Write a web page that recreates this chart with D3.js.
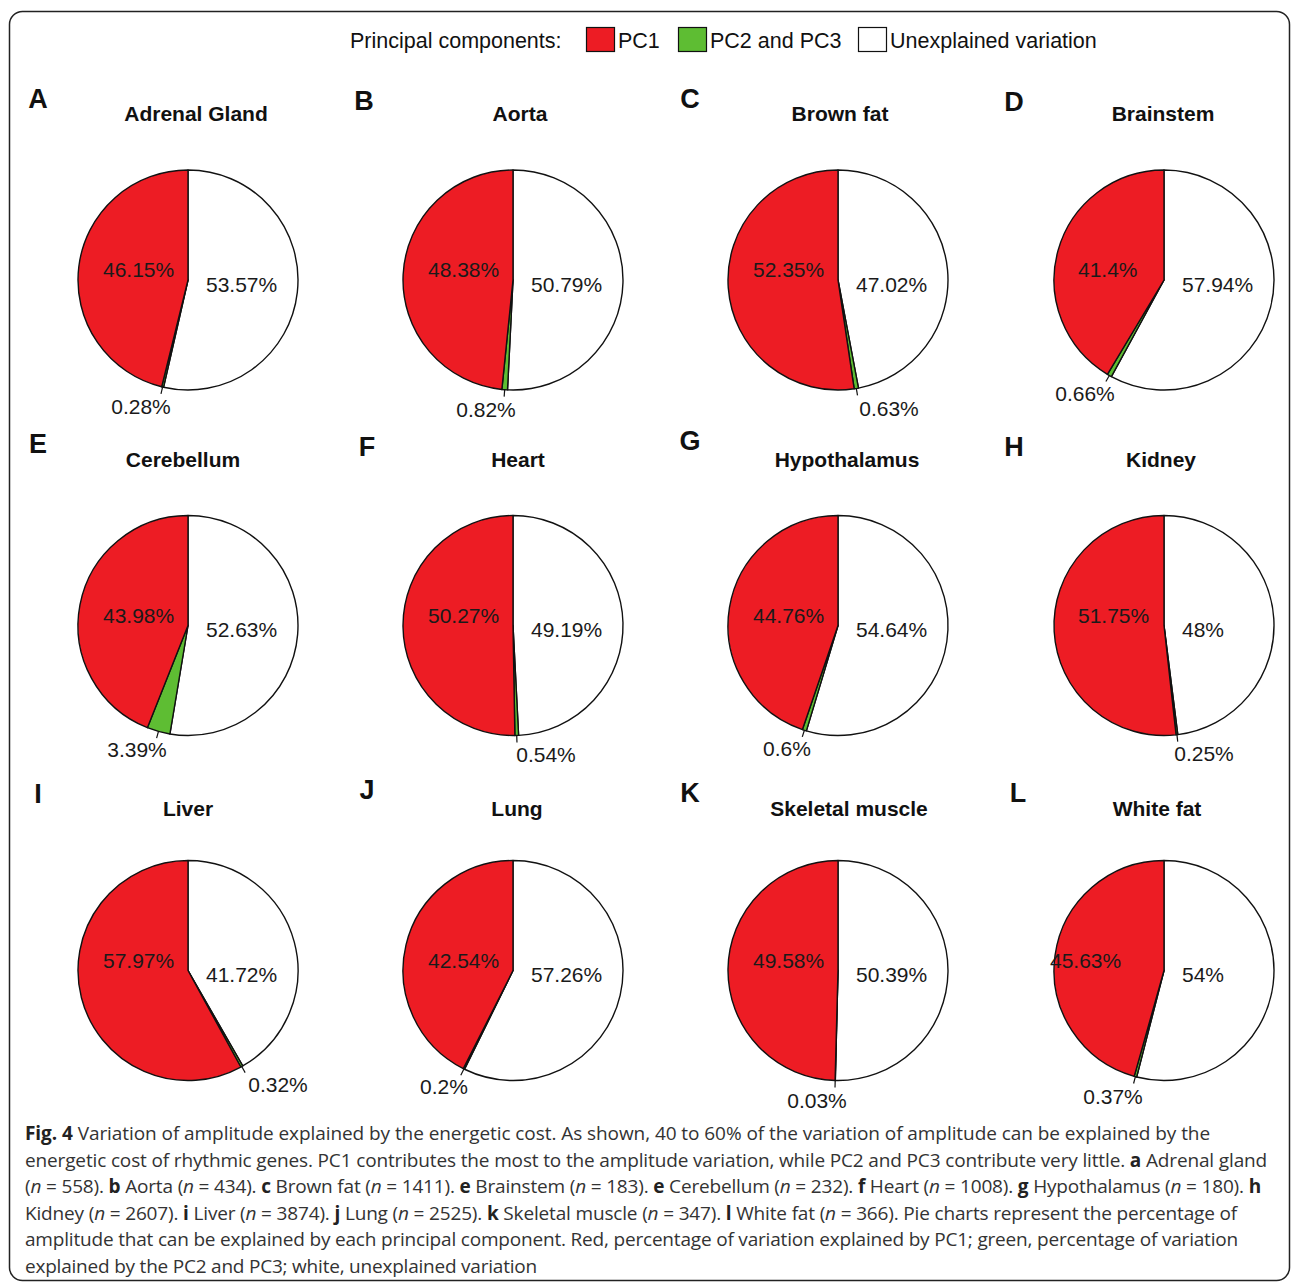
<!DOCTYPE html>
<html>
<head>
<meta charset="utf-8">
<script src="https://cdn.jsdelivr.net/npm/d3@7"></script>
<style>
  html, body { margin: 0; padding: 0; background: #fff; }
  svg { display: block; }
</style>
</head>
<body>
<svg id="fig" width="1292" height="1284"></svg>
<script>
// ---- data ----
const tissues = ["Adrenal Gland", "Aorta", "Brown fat", "Brainstem",
                 "Cerebellum", "Heart", "Hypothalamus", "Kidney",
                 "Liver", "Lung", "Skeletal muscle", "White fat"];
const panelLetters = ["A", "B", "C", "D", "E", "F", "G", "H", "I", "J", "K", "L"];
const pc1 =         [46.15, 48.38, 52.35, 41.4, 43.98, 50.27, 44.76, 51.75, 57.97, 42.54, 49.58, 45.63];
const pc23 =        [0.28, 0.82, 0.63, 0.66, 3.39, 0.54, 0.6, 0.25, 0.32, 0.2, 0.03, 0.37];
const unexplained = [53.57, 50.79, 47.02, 57.94, 52.63, 49.19, 54.64, 48, 41.72, 57.26, 50.39, 54];
const legendLabels = ["PC1", "PC2 and PC3", "Unexplained variation"];
const colors = {pc1: "#ED1C24", pc23: "#5EBD33", unexplained: "#FFFFFF"};

// ---- layout ----
const colX = [188, 513, 838, 1164];
const rowY = [280, 625.5, 970.5];
const radius = 110;
// offset of the small PC2/PC3 label centre from each pie centre
const smallLabelOffset = [[-47, 126], [-27, 129], [51, 128], [-79, 113],
                          [-51, 124], [33, 129], [-51, 123], [40, 128],
                          [90, 114], [-69, 116], [-21, 130], [-51, 126]];
const redLabelDx = [-85, -85, -85, -86, -85, -85, -85, -86, -85, -85, -85, -114];
const titleDx = [8, 7, 2, -1, -5, 5, 9, -3, 0, 4, 11, -7];
const letterPos = [[38, 108], [364, 110], [690, 108], [1014, 111],
                   [38, 453], [367, 456], [690, 450], [1014, 456],
                   [38, 803], [367, 799], [690, 802], [1018, 802]];

const svg = d3.select("#fig");
const sans = "'Liberation Sans', Arial, Helvetica, sans-serif";

// frame
svg.append("rect")
  .attr("x", 9.5).attr("y", 11.5).attr("width", 1280).attr("height", 1269)
  .attr("rx", 13).attr("ry", 13)
  .attr("fill", "none").attr("stroke", "#222").attr("stroke-width", 1.5);

// legend
const legend = svg.append("g").attr("font-family", sans).attr("font-size", 21.5).attr("fill", "#111");
legend.append("text").attr("x", 350).attr("y", 47.5).text("Principal components:");
const legendItems = [
  {label: legendLabels[0], color: colors.pc1, x: 586},
  {label: legendLabels[1], color: colors.pc23, x: 678},
  {label: legendLabels[2], color: colors.unexplained, x: 858}
];
legendItems.forEach(d => {
  legend.append("rect").attr("x", d.x + 0.5).attr("y", 27.5).attr("width", 28).attr("height", 24)
    .attr("fill", d.color).attr("stroke", "#111").attr("stroke-width", 1.2);
  legend.append("text").attr("x", d.x + 32).attr("y", 47.5).text(d.label);
});

// pies
const pie = d3.pie().sort(null).value(d => d.value).startAngle(0).endAngle(2 * Math.PI);
const arc = d3.arc().innerRadius(0).outerRadius(radius);
const fmt = v => String(v) + "%";

tissues.forEach((name, i) => {
  const cx = colX[i % 4], cy = rowY[Math.floor(i / 4)];
  const g = svg.append("g").attr("transform", `translate(${cx},${cy})`);
  const slices = [
    {key: "unexplained", value: unexplained[i]},
    {key: "pc23", value: pc23[i]},
    {key: "pc1", value: pc1[i]}
  ];
  const arcs = pie(slices);
  g.selectAll("path").data(arcs).join("path")
    .attr("d", arc)
    .attr("fill", d => colors[d.data.key])
    .attr("stroke", "#111").attr("stroke-width", 1.4).attr("stroke-linejoin", "round");

  // leader tick for the small slice
  const small = arcs[1];
  const mid = (small.startAngle + small.endAngle) / 2;
  g.append("line")
    .attr("x1", Math.sin(mid) * radius).attr("y1", -Math.cos(mid) * radius)
    .attr("x2", Math.sin(mid) * (radius + 7)).attr("y2", -Math.cos(mid) * (radius + 7))
    .attr("stroke", "#111").attr("stroke-width", 1.2);

  const lbl = g.append("g").attr("font-family", sans).attr("font-size", 21).attr("fill", "#1a1a1a");
  lbl.append("text").attr("x", redLabelDx[i]).attr("y", -3).text(fmt(pc1[i]));
  lbl.append("text").attr("x", 18).attr("y", 11.5).text(fmt(unexplained[i]));
  lbl.append("text").attr("x", smallLabelOffset[i][0]).attr("y", smallLabelOffset[i][1] + 7.5)
    .attr("text-anchor", "middle").text(fmt(pc23[i]));

  // title
  svg.append("text").attr("x", cx + titleDx[i]).attr("y", cy - 159 + (i >= 8 ? 4 : 0))
    .attr("text-anchor", "middle").attr("font-family", sans).attr("font-size", 21)
    .attr("font-weight", "bold").attr("fill", "#111").text(name);

  // panel letter
  svg.append("text").attr("x", letterPos[i][0]).attr("y", letterPos[i][1])
    .attr("text-anchor", "middle").attr("font-family", sans).attr("font-size", 27)
    .attr("font-weight", "bold").attr("fill", "#111").text(panelLetters[i]);
});

// caption
const captionLines = [
  {end: 1210, parts: [["b", "Fig. 4"], ["", " Variation of amplitude explained by the energetic cost. As shown, 40 to 60% of the variation of amplitude can be explained by the"]]},
  {end: 1267, parts: [["", "energetic cost of rhythmic genes. PC1 contributes the most to the amplitude variation, while PC2 and PC3 contribute very little. "], ["b", "a"], ["", " Adrenal gland"]]},
  {end: 1261, parts: [["", "("], ["i", "n"], ["", " = 558). "], ["b", "b"], ["", " Aorta ("], ["i", "n"], ["", " = 434). "], ["b", "c"], ["", " Brown fat ("], ["i", "n"], ["", " = 1411). "], ["b", "e"], ["", " Brainstem ("], ["i", "n"], ["", " = 183). "], ["b", "e"], ["", " Cerebellum ("], ["i", "n"], ["", " = 232). "], ["b", "f"], ["", " Heart ("], ["i", "n"], ["", " = 1008). "], ["b", "g"], ["", " Hypothalamus ("], ["i", "n"], ["", " = 180). "], ["b", "h"]]},
  {end: 1237, parts: [["", "Kidney ("], ["i", "n"], ["", " = 2607). "], ["b", "i"], ["", " Liver ("], ["i", "n"], ["", " = 3874). "], ["b", "j"], ["", " Lung ("], ["i", "n"], ["", " = 2525). "], ["b", "k"], ["", " Skeletal muscle ("], ["i", "n"], ["", " = 347). "], ["b", "l"], ["", " White fat ("], ["i", "n"], ["", " = 366). Pie charts represent the percentage of"]]},
  {end: 1238, parts: [["", "amplitude that can be explained by each principal component. Red, percentage of variation explained by PC1; green, percentage of variation"]]},
  {end: 537, parts: [["", "explained by the PC2 and PC3; white, unexplained variation"]]}
];
const capX = 25, capY0 = 1140, capDy = 26.6;
captionLines.forEach((line, k) => {
  const t = svg.append("text")
    .attr("x", capX).attr("y", capY0 + k * capDy)
    .attr("font-family", "'Open Sans', 'Noto Sans', sans-serif").attr("font-size", 19)
    .attr("fill", "#333").attr("xml:space", "preserve");
  line.parts.forEach(([style, txt]) => {
    const s = t.append("tspan").text(txt);
    if (style === "b") s.attr("font-weight", "bold").attr("fill", "#222");
    if (style === "i") s.attr("font-style", "italic");
  });
  // tighten tracking so each line ends where the column ends
  const natural = t.node().getComputedTextLength();
  const nChars = line.parts.reduce((s, p) => s + p[1].length, 0);
  const spacing = (line.end - capX - natural) / nChars;
  t.attr("letter-spacing", spacing.toFixed(3));
});
</script>
</body>
</html>
